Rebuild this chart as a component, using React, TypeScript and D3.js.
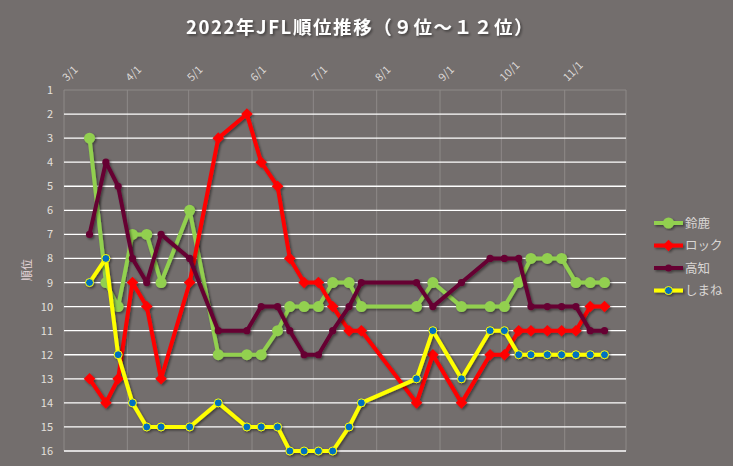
import React, { useRef, useEffect } from "react";
import * as d3 from "d3";

const width = 733;
const height = 466;

const matchDates = [
  "2022-03-13", "2022-03-21", "2022-03-27", "2022-04-03", "2022-04-10", "2022-04-17",
  "2022-05-01", "2022-05-15", "2022-05-29", "2022-06-05", "2022-06-13", "2022-06-19",
  "2022-06-26", "2022-07-03", "2022-07-10", "2022-07-18", "2022-07-24", "2022-08-20",
  "2022-08-28", "2022-09-11", "2022-09-25", "2022-10-02", "2022-10-09", "2022-10-15",
  "2022-10-23", "2022-10-30", "2022-11-06", "2022-11-13", "2022-11-20",
];

const suzuka = [3, 9, 10, 7, 7, 9, 6, 12, 12, 12, 11, 10, 10, 10, 9, 9, 10, 10, 9, 10, 10, 10, 9, 8, 8, 8, 9, 9, 9];
const rock = [13, 14, 13, 9, 10, 13, 9, 3, 2, 4, 5, 8, 9, 9, 10, 11, 11, 14, 12, 14, 12, 12, 11, 11, 11, 11, 11, 10, 10];
const kochi = [7, 4, 5, 8, 9, 7, 8, 11, 11, 10, 10, 11, 12, 12, 11, 10, 9, 9, 10, 9, 8, 8, 8, 10, 10, 10, 10, 11, 11];
const shimane = [9, 8, 12, 14, 15, 15, 15, 14, 15, 15, 15, 16, 16, 16, 16, 15, 14, 13, 11, 13, 11, 11, 12, 12, 12, 12, 12, 12, 12];

const rankTicks = d3.range(1, 17);
const monthTicks = ["2022-03-01", "2022-04-01", "2022-05-01", "2022-06-01", "2022-07-01", "2022-08-01", "2022-09-01", "2022-10-01", "2022-11-01"];

const series = [
  { name: "鈴鹿", values: suzuka, color: "#92d050", marker: "bigcircle" },
  { name: "ロック", values: rock, color: "#ff0000", marker: "diamond" },
  { name: "高知", values: kochi, color: "#660033", marker: "dot" },
  { name: "しまね", values: shimane, color: "#ffff00", marker: "blue" },
];

const font = "'Noto Sans CJK JP', 'Noto Sans', sans-serif";

export default function App() {
  const ref = useRef<SVGSVGElement | null>(null);

  useEffect(() => {
    const svg = d3.select(ref.current);
    svg.selectAll("*").remove();

    const parse = d3.timeParse("%Y-%m-%d");
    const dates = matchDates.map((d) => parse(d)!);

    const x = d3
      .scaleTime()
      .domain([parse("2022-03-01")!, parse("2022-12-01")!])
      .range([64, 626]);
    const y = d3.scaleLinear().domain([1, 16]).range([90, 451]);

    const defs = svg.append("defs");
    const f = defs.append("filter").attr("id", "shadow").attr("x", "-20%").attr("y", "-20%").attr("width", "140%").attr("height", "140%");
    f.append("feDropShadow").attr("dx", 1.5).attr("dy", 1.5).attr("stdDeviation", 1.2).attr("flood-color", "#000").attr("flood-opacity", 0.45);

    svg.append("rect").attr("width", width).attr("height", height).attr("fill", "#736e6d");

    // title
    svg
      .append("text")
      .attr("x", 360)
      .attr("y", 34)
      .attr("text-anchor", "middle")
      .attr("font-family", font)
      .attr("font-size", 18.5)
      .attr("font-weight", "bold")
      .attr("letter-spacing", 1.6)
      .attr("fill", "#ffffff")
      .attr("filter", "url(#shadow)")
      .text("2022年JFL順位推移（９位～１２位）");

    // vertical month gridlines + plot border
    const monthDates = monthTicks.map((d) => parse(d)!).concat([parse("2022-12-01")!]);
    svg
      .selectAll("line.vgrid")
      .data(monthDates)
      .enter()
      .append("line")
      .attr("x1", (d) => x(d))
      .attr("x2", (d) => x(d))
      .attr("y1", y(1))
      .attr("y2", y(16))
      .attr("stroke", "#8e8988")
      .attr("stroke-width", 1);

    svg
      .append("line")
      .attr("x1", x.range()[0])
      .attr("x2", x.range()[1])
      .attr("y1", y(1))
      .attr("y2", y(1))
      .attr("stroke", "#8e8988");

    // horizontal rank gridlines
    svg
      .selectAll("line.hgrid")
      .data(rankTicks.slice(1))
      .enter()
      .append("line")
      .attr("x1", x.range()[0])
      .attr("x2", x.range()[1])
      .attr("y1", (d) => y(d))
      .attr("y2", (d) => y(d))
      .attr("stroke", "#ffffff")
      .attr("stroke-width", 1.3);

    // left axis labels
    svg
      .selectAll("text.rank")
      .data(rankTicks)
      .enter()
      .append("text")
      .attr("x", 53)
      .attr("y", (d) => y(d) + 4)
      .attr("text-anchor", "end")
      .attr("font-family", font)
      .attr("font-size", 11)
      .attr("fill", "#e4e0dc")
      .text((d) => d);

    svg
      .append("text")
      .attr("transform", "translate(31,270) rotate(-90)")
      .attr("text-anchor", "middle")
      .attr("font-family", font)
      .attr("font-size", 11)
      .attr("fill", "#e6d6da")
      .text("順位");

    // top month labels
    const fmt = d3.timeFormat("%-m/%-d");
    svg
      .selectAll("text.month")
      .data(monthDates.slice(0, -1))
      .enter()
      .append("text")
      .attr("transform", (d) => `translate(${x(d) + 3},82) rotate(-45)`)
      .attr("font-family", font)
      .attr("font-size", 11)
      .attr("fill", "#dcd8d6")
      .text((d) => fmt(d));

    const line = d3
      .line<number>()
      .x((_, i) => x(dates[i]) + 1)
      .y((d) => y(d));

    const drawMarkers = (g: any, s: typeof series[0], cx: (i: number) => number, cy: (v: number, i: number) => number, data: number[]) => {
      if (s.marker === "diamond") {
        g.selectAll("path.m")
          .data(data)
          .enter()
          .append("path")
          .attr("d", d3.symbol(d3.symbolDiamond2, 85)())
          .attr("transform", (d: number, i: number) => `translate(${cx(i)},${cy(d, i)})`)
          .attr("fill", s.color);
      } else {
        const r = s.marker === "bigcircle" ? 5.5 : s.marker === "dot" ? 3.6 : 4;
        g.selectAll("circle.m")
          .data(data)
          .enter()
          .append("circle")
          .attr("cx", (d: number, i: number) => cx(i))
          .attr("cy", (d: number, i: number) => cy(d, i))
          .attr("r", r)
          .attr("fill", s.marker === "blue" ? "#0070c0" : s.color)
          .attr("stroke", s.marker === "blue" ? "#ffff00" : "none")
          .attr("stroke-width", 1);
      }
    };

    series.forEach((s) => {
      const g = svg.append("g").attr("filter", "url(#shadow)");
      g.append("path")
        .datum(s.values)
        .attr("d", line)
        .attr("fill", "none")
        .attr("stroke", s.color)
        .attr("stroke-width", 4)
        .attr("stroke-linejoin", "round");
      drawMarkers(g, s, (i) => x(dates[i]) + 1, (v) => y(v), s.values);
    });

    // legend
    const legend = svg.append("g");
    series.forEach((s, i) => {
      const ly = 223 + i * 22.5;
      const g = legend.append("g").attr("filter", "url(#shadow)");
      g.append("line")
        .attr("x1", 654)
        .attr("x2", 683)
        .attr("y1", ly)
        .attr("y2", ly)
        .attr("stroke", s.color)
        .attr("stroke-width", 4);
      drawMarkers(g, s, () => 668.5, () => ly, [0]);
      legend
        .append("text")
        .attr("x", 685)
        .attr("y", ly + 4.5)
        .attr("font-family", font)
        .attr("font-size", 12.5)
        .attr("fill", "#d9d6d4")
        .text(s.name);
    });
  }, []);

  return (
    <div style={{ position: "fixed", left: 0, top: 0 }}>
      <svg ref={ref} width={width} height={height} style={{ display: "block" }} />
    </div>
  );
}
